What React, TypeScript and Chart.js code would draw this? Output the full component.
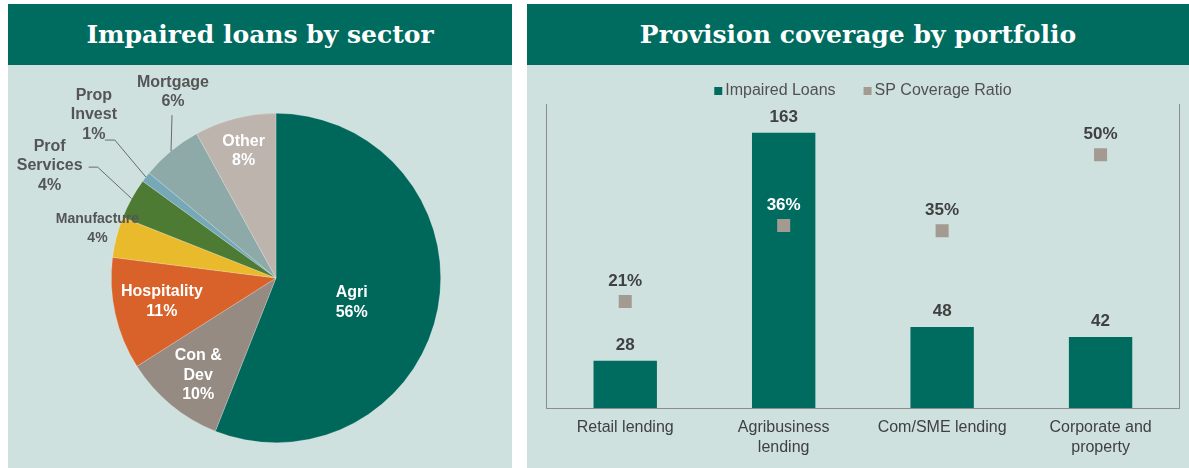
import React, { useEffect, useRef } from "react";
import { Chart, registerables } from "chart.js";

Chart.register(...registerables);

// ---------- DATA ----------
const sectorNames = ["Agri", "Con & Dev", "Hospitality", "Manufacture", "Prof Services", "Prop Invest", "Mortgage", "Other"];
const sectorShares = [56, 10, 11, 4, 4, 1, 6, 8];
const sectorNameLines = [["Agri"], ["Con &", "Dev"], ["Hospitality"], ["Manufacture"], ["Prof", "Services"], ["Prop", "Invest"], ["Mortgage"], ["Other"]];

const portfolioLabels = [["Retail lending"], ["Agribusiness", "lending"], ["Com/SME lending"], ["Corporate and", "property"]];
const impairedLoans = [28, 163, 48, 42];
const coverageRatio = [21, 36, 35, 50];
const seriesNames = ["Impaired Loans", "SP Coverage Ratio"];

// ---------- STYLE ----------
const TEAL = "#006B5F";
const PANEL_BG = "#CEE1DF";
const SQUARE = "#A39A91";
const TEXT_DARK = "#404040";
const NARROW = '"Liberation Sans Narrow", "Arial Narrow", "Liberation Sans", Arial, sans-serif';
const SANS = '"Liberation Sans", Arial, sans-serif';

const sectorColors = ["#00675B", "#958B82", "#D9612A", "#E9BA2C", "#4E7B33", "#76A8B8", "#8DAAA8", "#BDB4AD"];

type Placement = {
  inside: boolean;
  f?: number;
  dx: number;
  dy: number;
  leader?: number[][];
  small?: boolean;
  color: string;
};

const sectorLabelPlacement: Placement[] = [
  { inside: true, f: 0.48, dx: -2, dy: 10, color: "#FFFFFF" },
  { inside: true, f: 0.76, dx: 2, dy: 1, color: "#FFFFFF" },
  { inside: true, f: 0.71, dx: 0, dy: -2, color: "#FFFFFF" },
  { inside: false, dx: -19, dy: -8.5, small: true, color: "#555555" },
  { inside: false, dx: -82, dy: -33, leader: [[-34, -31.5], [-43, -31.5]], color: "#555555" },
  { inside: false, dx: -52, dy: -62, leader: [[-31, -37], [-41, -37]], color: "#555555" },
  { inside: false, dx: 2, dy: -59, leader: [[1, -36]], color: "#555555" },
  { inside: true, f: 0.79, dx: 0, dy: -1, color: "#FFFFFF" },
];

const pieLabelPlugin = {
  id: "pieLabels",
  afterDatasetsDraw(chart: any) {
    const ctx = chart.ctx as CanvasRenderingContext2D;
    const meta = chart.getDatasetMeta(0);
    meta.data.forEach((arc: any, i: number) => {
      const p = arc.getProps(["x", "y", "startAngle", "endAngle", "outerRadius"], true);
      const mid = (p.startAngle + p.endAngle) / 2;
      const st = sectorLabelPlacement[i];
      const lines = [...sectorNameLines[i], sectorShares[i] + "%"];
      let cx: number, cy: number;
      ctx.save();
      if (st.inside) {
        const d = p.outerRadius * (st.f || 0.6);
        cx = p.x + Math.cos(mid) * d + st.dx;
        cy = p.y + Math.sin(mid) * d + st.dy;
      } else {
        const ex = p.x + Math.cos(mid) * p.outerRadius;
        const ey = p.y + Math.sin(mid) * p.outerRadius;
        if (st.leader) {
          ctx.strokeStyle = "#6A6A6A";
          ctx.lineWidth = 1;
          ctx.beginPath();
          ctx.moveTo(ex, ey);
          st.leader.forEach(([lx, ly]) => ctx.lineTo(ex + lx, ey + ly));
          ctx.stroke();
        }
        cx = ex + st.dx;
        cy = ey + st.dy;
      }
      ctx.fillStyle = st.color;
      ctx.textAlign = "center";
      ctx.textBaseline = "middle";
      ctx.font = st.small ? `bold 14px ${SANS}` : `bold 16px ${SANS}`;
      const lh = 19.5;
      lines.forEach((t, k) => {
        ctx.fillText(t, cx, cy + (k - (lines.length - 1) / 2) * lh);
      });
      ctx.restore();
    });
  },
};

const barLabelPlugin = {
  id: "barLabels",
  afterDatasetsDraw(chart: any) {
    const ctx = chart.ctx as CanvasRenderingContext2D;
    ctx.save();
    ctx.textAlign = "center";
    ctx.textBaseline = "alphabetic";
    ctx.font = `bold 17px ${NARROW}`;
    const bars = chart.getDatasetMeta(0).data;
    bars.forEach((b: any, i: number) => {
      ctx.fillStyle = TEXT_DARK;
      ctx.fillText(String(impairedLoans[i]), b.x, b.y - 11);
    });
    const pts = chart.getDatasetMeta(1).data;
    pts.forEach((pt: any, i: number) => {
      const insideBar = coverageRatio[i] * (180 / 60) < impairedLoans[i];
      ctx.fillStyle = insideBar ? "#FFFFFF" : TEXT_DARK;
      ctx.fillText(coverageRatio[i] + "%", pt.x, pt.y - 16);
    });
    ctx.restore();
  },
};

const legendPlugin = {
  id: "customLegend",
  afterDraw(chart: any) {
    const ctx = chart.ctx as CanvasRenderingContext2D;
    const area = chart.chartArea;
    const colors = [TEAL, SQUARE];
    ctx.save();
    ctx.font = `16px ${NARROW}`;
    ctx.textBaseline = "middle";
    ctx.textAlign = "left";
    const box = 8, gapBox = 3, gapItem = 28;
    const widths = seriesNames.map((n) => ctx.measureText(n).width);
    const total = widths.reduce((a, w) => a + box + gapBox + w, 0) + gapItem;
    let x = (area.left + area.right) / 2 - total / 2;
    const y = 26;
    seriesNames.forEach((n, i) => {
      ctx.fillStyle = colors[i];
      ctx.fillRect(x, y - box / 2, box, box);
      x += box + gapBox;
      ctx.fillStyle = "#505050";
      ctx.fillText(n, x, y);
      x += widths[i] + gapItem;
    });
    ctx.restore();
  },
};

function PieChart() {
  const ref = useRef<HTMLCanvasElement>(null);
  useEffect(() => {
    if (!ref.current) return;
    const chart = new Chart(ref.current, {
      type: "pie",
      data: {
        labels: sectorNames,
        datasets: [
          {
            data: sectorShares,
            backgroundColor: sectorColors,
            borderWidth: 0.6,
            borderColor: "rgba(255,255,255,0.35)",
          },
        ],
      },
      options: {
        animation: false,
        responsive: false,
        layout: { padding: { top: 48, bottom: 25, left: 103, right: 71 } },
        plugins: { legend: { display: false }, tooltip: { enabled: false } },
      },
      plugins: [pieLabelPlugin],
    } as any);
    return () => chart.destroy();
  }, []);
  return <canvas ref={ref} width={504} height={403} style={{ width: 504, height: 403, display: "block" }} />;
}

function BarChart() {
  const ref = useRef<HTMLCanvasElement>(null);
  useEffect(() => {
    if (!ref.current) return;
    const axisBorder = { display: true, color: "#8C8C8C", width: 1 };
    const chart = new Chart(ref.current, {
      type: "bar",
      data: {
        labels: portfolioLabels,
        datasets: [
          {
            type: "bar",
            label: seriesNames[0],
            data: impairedLoans,
            backgroundColor: TEAL,
            yAxisID: "y",
            barPercentage: 0.4,
            categoryPercentage: 1,
            order: 2,
          },
          {
            type: "line",
            label: seriesNames[1],
            data: coverageRatio,
            yAxisID: "y1",
            showLine: false,
            pointStyle: "rect",
            pointRadius: 9.2,
            pointBackgroundColor: SQUARE,
            pointBorderWidth: 0,
            order: 1,
          },
        ],
      },
      options: {
        animation: false,
        responsive: false,
        layout: { padding: { left: 19, right: 6, top: 39, bottom: 0 } },
        scales: {
          x: {
            grid: { display: false, drawTicks: false },
            border: axisBorder,
            ticks: {
              color: TEXT_DARK,
              font: { family: NARROW, size: 16, lineHeight: 1.25 },
              padding: 10,
              maxRotation: 0,
              autoSkip: false,
            },
            afterFit: (s: any) => {
              s.height = 60;
            },
          },
          y: {
            min: 0,
            max: 180,
            grid: { display: false, drawTicks: false },
            ticks: { display: false },
            border: axisBorder,
            afterFit: (s: any) => {
              s.width = 0;
            },
          },
          y1: {
            position: "right",
            min: 0,
            max: 60,
            grid: { display: false, drawTicks: false },
            ticks: { display: false },
            border: axisBorder,
            afterFit: (s: any) => {
              s.width = 0;
            },
          },
        },
        plugins: { legend: { display: false }, tooltip: { enabled: false } },
      },
      plugins: [barLabelPlugin, legendPlugin],
    } as any);
    return () => chart.destroy();
  }, []);
  return <canvas ref={ref} width={662} height={403} style={{ width: 662, height: 403, display: "block" }} />;
}

const titleStyle: React.CSSProperties = {
  height: 61,
  background: TEAL,
  color: "#FFFFFF",
  fontFamily: '"DejaVu Serif", "Liberation Serif", serif',
  fontWeight: "bold",
  fontSize: 25,
  lineHeight: "61px",
  textAlign: "center",
  whiteSpace: "nowrap",
};

export default function App() {
  return (
    <div style={{ position: "absolute", left: 0, top: 0, width: 1189, height: 468, background: "#FFFFFF", overflow: "hidden" }}>
      <div style={{ position: "absolute", left: 8, top: 4, width: 504, height: 464, background: PANEL_BG }}>
        <div style={titleStyle}>Impaired loans by sector</div>
        <PieChart />
      </div>
      <div style={{ position: "absolute", left: 527, top: 4, width: 662, height: 464, background: PANEL_BG }}>
        <div style={titleStyle}>Provision coverage by portfolio</div>
        <BarChart />
      </div>
    </div>
  );
}
